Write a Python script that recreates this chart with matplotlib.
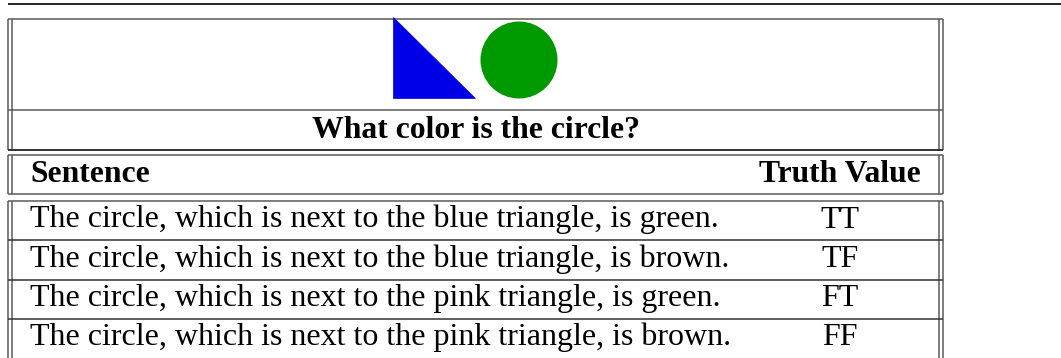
import matplotlib
matplotlib.use("Agg")
import matplotlib.pyplot as plt
from matplotlib.patches import Polygon, Circle

question = "What color is the circle?"
header = ["Sentence", "Truth Value"]
sentences = [
    "The circle, which is next to the blue triangle, is green.",
    "The circle, which is next to the blue triangle, is brown.",
    "The circle, which is next to the pink triangle, is green.",
    "The circle, which is next to the pink triangle, is brown.",
]
truth_values = ["TT", "TF", "FT", "FF"]

W, H = 1061, 358
fig = plt.figure(figsize=(W / 100, H / 100), dpi=100)
ax = fig.add_axes([0, 0, 1, 1])
ax.set_xlim(0, W)
ax.set_ylim(H, 0)
ax.axis("off")

serif = ["Liberation Serif", "DejaVu Serif"]
gray = "#5a5a5a"
lw = 1.1
fs_bold = 22.8
fs_body = 23

# rule across the top of the page
ax.hlines(4, 8, W, color="black", lw=1.2)

L0, L1, R0, R1 = 8, 12, 939, 943


def box(top, bottom, color=gray):
    ax.hlines([top, bottom], L0, R1, color=color, lw=lw)
    ax.vlines([L0, L1, R0, R1], top, bottom, color=gray, lw=lw)


# image + question block
box(19, 150)
ax.hlines(150, L0, R1, color="#222222", lw=lw)
ax.hlines(110, L0, R1, color=gray, lw=lw)
ax.add_patch(Polygon([[393, 17], [393, 98], [475, 98]], closed=True,
                     facecolor="#0000e6", edgecolor="#0000e6", lw=0.5, zorder=3))
ax.add_patch(Circle((519, 60), 38.5, facecolor="#009900", edgecolor="none", zorder=3))
ax.text(475.5, 138, question, fontsize=fs_bold, fontweight="bold", family=serif,
        ha="center", va="baseline")

# header block
box(155, 194)
ax.text(30, 182, header[0], fontsize=fs_bold, fontweight="bold", family=serif,
        ha="left", va="baseline")
ax.text(921, 182, header[1], fontsize=fs_bold, fontweight="bold", family=serif,
        ha="right", va="baseline")

# sentence rows
top = 201
pitch = 39.3
ax.hlines(top, L0, R1, color=gray, lw=lw)
ax.vlines([L0, L1, R0, R1], top, H, color=gray, lw=lw)
for i, (s, tv) in enumerate(zip(sentences, truth_values)):
    y0 = top + i * pitch
    if i > 0:
        ax.hlines(y0, L0, R1, color="#333333", lw=lw)
    base = y0 + 26.5
    ax.text(30, base, s, fontsize=fs_body, family=serif, ha="left", va="baseline")
    ax.text(840, base, tv, fontsize=fs_body, family=serif, ha="center", va="baseline")

fig.savefig("out.png", dpi=100)
